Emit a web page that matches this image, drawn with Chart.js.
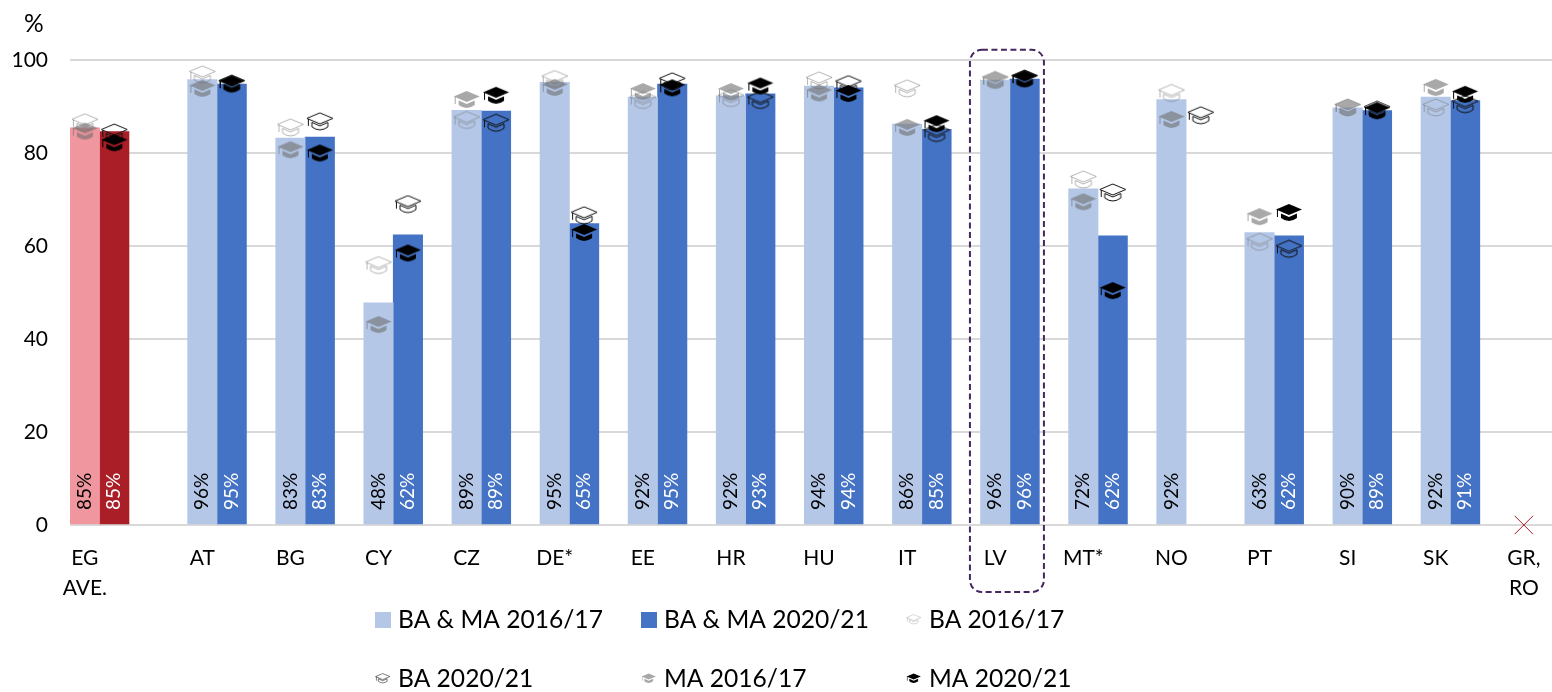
<!DOCTYPE html>
<html>
<head>
<meta charset="utf-8">
<style>
  html, body { margin: 0; padding: 0; background: #fff; }
  #wrap { width: 1552px; height: 692px; position: relative; }
</style>
<script src="https://cdn.jsdelivr.net/npm/chart.js@4"></script>
</head>
<body>
<div id="wrap"><canvas id="gradChart" width="1552" height="692"></canvas></div>
<script>
// Data
const categories = [['EG', 'AVE.'], 'AT', 'BG', 'CY', 'CZ', 'DE*', 'EE', 'HR', 'HU', 'IT', 'LV', 'MT*', 'NO', 'PT', 'SI', 'SK', ['GR,', 'RO']];
const yTicks = [0, 20, 40, 60, 80, 100];
const baMa1617 = [85.4, 95.8, 83.2, 47.8, 89.2, 95.2, 92.0, 92.3, 94.4, 86.2, 95.7, 72.3, 91.5, 62.9, 89.7, 92.0, null];
const baMa2021 = [84.6, 94.8, 83.4, 62.4, 89.0, 64.8, 94.8, 92.7, 94.0, 85.1, 95.9, 62.2, null, 62.2, 89.1, 91.3, null];
const ba1617 = [86.5, 96.8, 85.4, 55.8, 87.0, 95.8, 91.3, 91.7, 95.5, 93.8, 95.6, 74.2, 92.8, 60.8, 89.7, 89.7, null];
const ba2021 = [84.3, 94.8, 86.7, 68.9, 86.4, 66.5, 95.3, 91.3, 94.7, 84.2, 95.9, 71.4, 88.0, 59.3, 89.2, 90.4, null];
const ma1617 = [84.6, 93.8, 80.6, 43.0, 91.4, 94.0, 93.1, 93.1, 92.8, 85.4, 95.6, 69.4, 87.1, 66.2, 89.7, 94.0, null];
const ma2021 = [82.1, 94.8, 79.9, 58.4, 92.3, 62.8, 93.9, 94.3, 92.7, 86.2, 95.9, 50.3, null, 67.1, 89.0, 92.5, null];
const noData = [null, null, null, null, null, null, null, null, null, null, null, null, null, null, null, null, 0];

const FONT = 'Lato, Carlito, sans-serif';
const LIGHT = '#B4C7E7', DARK = '#4472C4', PINK = '#F0969E', RED = '#A91E27';

// EG sits a bit further from the rest, the other groups are evenly spaced
const groupPos = i => (i === 0 ? -4 / 3 : i - 1);
const BAR_STEP = 1 / 6;   // half a group, i.e. centre of one bar
const points = (values, shift) => values.map((v, i) => ({ x: groupPos(i) + shift, y: v }));

// Mortarboard icon on a small canvas, used as point style
function makeHat(kind, k) {
  const c = document.createElement('canvas');
  c.width = Math.ceil(28 * k);
  c.height = Math.ceil(20 * k);
  const g = c.getContext('2d');
  g.scale(k, k);
  g.translate(1, 1);
  const top = new Path2D('M13 0 L26 5.5 L13 11 L0 5.5 Z');
  const tassel = new Path2D('M1.5 6 L1.5 13');
  if (kind.fill) {
    g.fillStyle = kind.fill;
    g.fill(top);
    g.fill(new Path2D('M5 9.5 L13 13 L21 9.5 L21 14 Q13 20 5 14 Z'));
    g.strokeStyle = kind.fill;
    g.lineWidth = 1;
    g.stroke(tassel);
  } else {
    g.strokeStyle = kind.line;
    g.lineWidth = 1;
    g.stroke(top);
    g.stroke(tassel);
    g.stroke(new Path2D('M5 9.5 L13 13 L21 9.5 M21 9.5 L21 14 Q13 20 5 14 L5 9.5'));
  }
  return c;
}

const hatKinds = {
  ba1617: { line: 'rgba(120,120,120,0.55)' },
  ba2021: { line: '#111' },
  ma1617: { fill: 'rgba(110,110,110,0.6)' },
  ma2021: { fill: '#000' }
};

function hatDataset(label, values, shift, kind, order) {
  return {
    type: 'scatter',
    label: label,
    data: points(values, shift),
    pointStyle: makeHat(hatKinds[kind], 1),
    pointRadius: 8,
    order: order
  };
}

// Rotated percent labels at the foot of each bar
const barLabels = {
  id: 'barLabels',
  afterDatasetsDraw(chart) {
    const ctx = chart.ctx;
    [0, 1].forEach(ds => {
      const meta = chart.getDatasetMeta(ds);
      chart.data.datasets[ds].data.forEach((pt, i) => {
        if (pt.y === null) return;
        const bar = meta.data[i];
        ctx.save();
        ctx.translate(bar.x, chart.scales.y.getPixelForValue(0) - 15);
        ctx.rotate(-Math.PI / 2);
        ctx.font = '19px ' + FONT;
        ctx.textAlign = 'left';
        ctx.textBaseline = 'middle';
        ctx.fillStyle = ds === 0 ? '#000' : '#fff';
        ctx.fillText(Math.round(pt.y) + '%', 0, 0);
        ctx.restore();
      });
    });
  }
};

// Dashed box round LV
const highlight = {
  id: 'highlight',
  afterDraw(chart) {
    const ctx = chart.ctx;
    const cx = chart.scales.x.getPixelForValue(groupPos(categories.indexOf('LV')));
    const top = chart.scales.y.getPixelForValue(102.2);
    ctx.save();
    ctx.strokeStyle = '#44275F';
    ctx.lineWidth = 2;
    ctx.setLineDash([6, 3.5]);
    ctx.beginPath();
    ctx.roundRect(cx - 40, top, 74, 592 - top, 12);
    ctx.stroke();
    ctx.restore();
  }
};

// Legend is laid out in three fixed columns, the built-in one cannot align them
const legendRows = [
  [{ x: 375, box: LIGHT, text: 'BA & MA 2016/17' }, { x: 641, box: DARK, text: 'BA & MA 2020/21' }, { x: 906, hat: 'ba1617', text: 'BA 2016/17' }],
  [{ x: 375, hat: 'ba2021', text: 'BA 2020/21' }, { x: 641, hat: 'ma1617', text: 'MA 2016/17' }, { x: 906, hat: 'ma2021', text: 'MA 2020/21' }]
];
const gridLegend = {
  id: 'gridLegend',
  afterDraw(chart) {
    const ctx = chart.ctx;
    ctx.save();
    ctx.font = '24.6px ' + FONT;
    ctx.textBaseline = 'middle';
    legendRows.forEach((row, r) => {
      const y = r === 0 ? 620 : 679;
      row.forEach(item => {
        if (item.box) {
          ctx.fillStyle = item.box;
          ctx.fillRect(item.x, y - 8, 16, 16);
        } else {
          ctx.drawImage(makeHat(hatKinds[item.hat], 0.55), item.x, y - 6);
        }
        ctx.fillStyle = '#000';
        ctx.fillText(item.text, item.x + 23, y);
      });
    });
    // unit above the y axis
    ctx.fillText('%', 24, 24);
    ctx.restore();
  }
};

new Chart(document.getElementById('gradChart'), {
  type: 'bar',
  data: {
    datasets: [
      {
        label: 'BA & MA 2016/17',
        data: points(baMa1617, 0),
        backgroundColor: categories.map((c, i) => (i === 0 ? PINK : LIGHT)),
        barThickness: 29.4,
        order: 6
      },
      {
        label: 'BA & MA 2020/21',
        data: points(baMa2021, 0),
        backgroundColor: categories.map((c, i) => (i === 0 ? RED : DARK)),
        barThickness: 29.4,
        order: 6
      },
      hatDataset('BA 2016/17', ba1617, -BAR_STEP, 'ba1617', 4),
      hatDataset('BA 2020/21', ba2021, BAR_STEP, 'ba2021', 3),
      hatDataset('MA 2016/17', ma1617, -BAR_STEP, 'ma1617', 2),
      hatDataset('MA 2020/21', ma2021, BAR_STEP, 'ma2021', 1),
      {
        type: 'scatter',
        label: 'No data',
        data: points(noData, -BAR_STEP),
        pointStyle: 'crossRot',
        pointRadius: 13,
        borderColor: '#A61C28',
        borderWidth: 1,
        backgroundColor: 'transparent',
        clip: false,
        order: 0
      }
    ]
  },
  options: {
    responsive: false,
    animation: false,
    layout: { autoPadding: false, padding: { left: 0, right: 0, top: 60, bottom: 92 } },
    plugins: {
      legend: { display: false },
      tooltip: { enabled: false },
      title: { display: false }
    },
    scales: {
      x: {
        type: 'linear',
        min: -1.669,
        max: 15.153,
        offset: false,
        grid: { display: false },
        border: { display: false },
        afterBuildTicks(axis) {
          axis.ticks = categories.map((c, i) => ({ value: groupPos(i) - BAR_STEP }));
        },
        afterFit(axis) {
          axis.height = 75;
          axis.paddingLeft = 0;
          axis.paddingRight = 0;
        },
        ticks: {
          autoSkip: false,
          maxRotation: 0,
          padding: 10,
          color: '#000',
          font: { family: FONT, size: 21, lineHeight: 1.43 },
          callback: (v, i) => categories[i]
        }
      },
      y: {
        type: 'linear',
        min: 0,
        max: 100,
        grid: { color: '#D9D9D9', lineWidth: 2, drawTicks: false },
        border: { display: false },
        afterBuildTicks(axis) {
          axis.ticks = yTicks.map(v => ({ value: v }));
        },
        afterFit(axis) { axis.width = 70; },
        ticks: {
          padding: 22,
          color: '#000',
          font: { family: FONT, size: 21 }
        }
      }
    }
  },
  plugins: [barLabels, highlight, gridLegend]
});
</script>
</body>
</html>
